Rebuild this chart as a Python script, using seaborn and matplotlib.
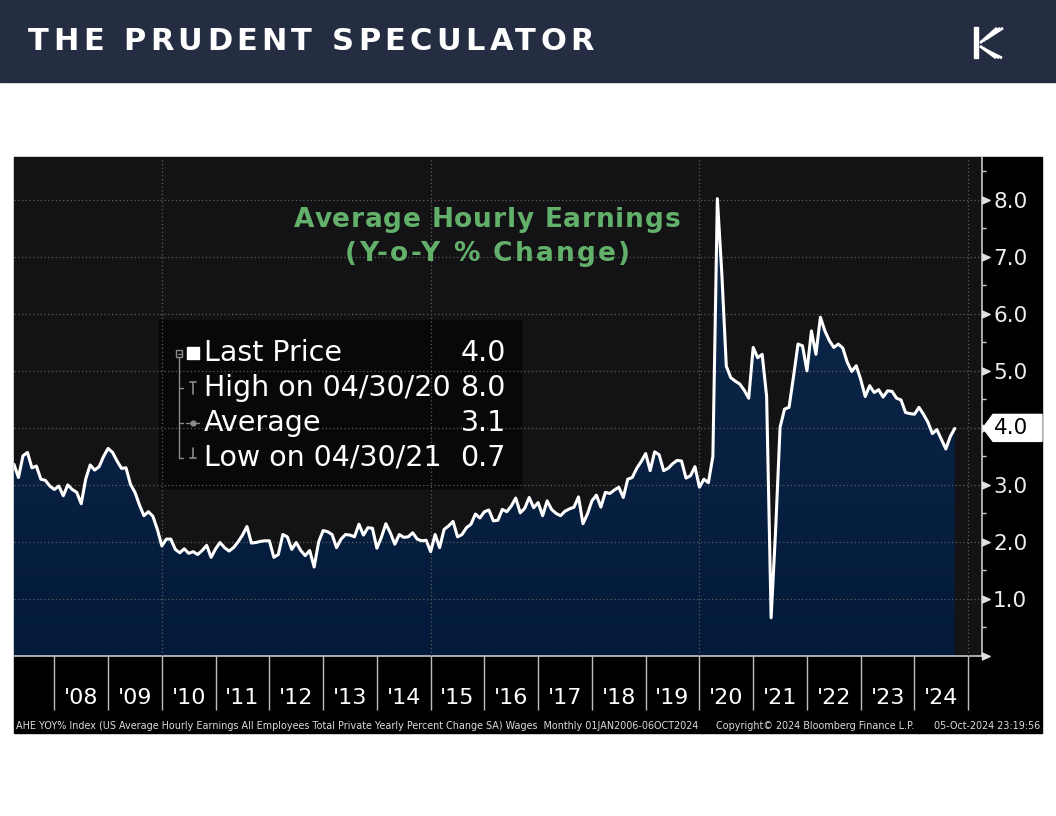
import numpy as np
import pandas as pd
import matplotlib
matplotlib.use("Agg")
import matplotlib.pyplot as plt
import seaborn as sns
import matplotlib.transforms as mtransforms
from matplotlib.patches import Rectangle, Polygon
from matplotlib.lines import Line2D
from matplotlib.path import Path
from matplotlib.colors import LinearSegmentedColormap
from matplotlib.font_manager import FontProperties

# ---------------- data ----------------
start_month = "2007-03-31"
ahe_yoy = [
    3.36, 3.13, 3.51, 3.57, 3.30, 3.33, 3.10, 3.08, 2.98, 2.92,
    2.98, 2.81, 3.00, 2.92, 2.87, 2.67, 3.10, 3.35, 3.26, 3.32,
    3.50, 3.64, 3.57, 3.42, 3.29, 3.30, 3.01, 2.87, 2.65, 2.46,
    2.53, 2.45, 2.22, 1.93, 2.05, 2.05, 1.87, 1.81, 1.88, 1.80,
    1.83, 1.78, 1.85, 1.94, 1.73, 1.88, 1.99, 1.90, 1.84, 1.90,
    2.00, 2.12, 2.27, 1.98, 1.99, 2.01, 2.02, 2.02, 1.73, 1.78,
    2.13, 2.09, 1.87, 1.99, 1.85, 1.76, 1.85, 1.56, 2.00, 2.20,
    2.18, 2.13, 1.90, 2.05, 2.13,
    2.12, 2.09, 2.31, 2.12, 2.25, 2.24, 1.89, 2.08, 2.32, 2.16,
    1.96, 2.13, 2.08, 2.09, 2.16, 2.05, 2.02, 2.03, 1.83, 2.13,
    1.90, 2.22, 2.28, 2.36, 2.09, 2.13, 2.25, 2.31, 2.49, 2.42,
    2.53, 2.56, 2.37, 2.38, 2.57, 2.53, 2.63, 2.77, 2.51, 2.59,
    2.78, 2.60, 2.69, 2.46, 2.72, 2.57, 2.50, 2.46, 2.54, 2.58,
    2.61, 2.79, 2.32, 2.49, 2.72, 2.82, 2.61, 2.87, 2.85, 2.91,
    2.96, 2.78, 3.10, 3.13, 3.29, 3.41, 3.55, 3.25, 3.58, 3.53,
    3.25, 3.29, 3.37, 3.43, 3.42, 3.12, 3.16, 3.32, 2.96, 3.10,
    3.04,
    3.50, 8.02, 6.70, 5.08, 4.88, 4.82, 4.77, 4.66, 4.52, 5.41,
    5.23, 5.29, 4.55, 0.67, 2.20, 4.01, 4.33, 4.36, 4.90, 5.47,
    5.44, 5.00, 5.70, 5.29, 5.94, 5.70, 5.53, 5.41, 5.47, 5.40,
    5.15, 4.99, 5.09, 4.85, 4.55, 4.74, 4.62, 4.67, 4.54, 4.65,
    4.64, 4.52, 4.49, 4.27, 4.25, 4.24, 4.36, 4.24, 4.10, 3.90,
    3.97, 3.80, 3.63, 3.85, 3.99,
]
year_ticks = list(range(2008, 2026))
year_labels = ["'08", "'09", "'10", "'11", "'12", "'13", "'14", "'15", "'16",
               "'17", "'18", "'19", "'20", "'21", "'22", "'23", "'24"]
y_major = [0, 1, 2, 3, 4, 5, 6, 7, 8]
y_labels = ["", "1.0", "2.0", "3.0", "4.0", "5.0", "6.0", "7.0", "8.0"]
y_minor = [0.5, 1.5, 2.5, 3.5, 4.5, 5.5, 6.5, 7.5, 8.5]
grid_years = [2010, 2015, 2020, 2025]
legend_rows = ["Last Price", "High on 04/30/20", "Average", "Low on 04/30/21"]
legend_vals = ["4.0", "8.0", "3.1", "0.7"]
last_label = "4.0"
last_value = 4.0
title_lines = ["Average Hourly Earnings", "(Y-o-Y % Change)"]
footer_left = ("AHE YOY% Index (US Average Hourly Earnings All Employees Total Private "
               "Yearly Percent Change SA) Wages  Monthly 01JAN2006-06OCT2024")
footer_mid = "Copyright\u00a9 2024 Bloomberg Finance L.P."
footer_right = "05-Oct-2024 23:19:56"
header_text = "THE PRUDENT SPECULATOR"

dates = pd.date_range(start_month, periods=len(ahe_yoy), freq="ME")
df = pd.DataFrame({"t": dates.year + dates.month / 12.0, "v": ahe_yoy})

# ---------------- figure ----------------
W, H = 1056, 816
sns.set_theme(style="ticks")
plt.rcParams["font.family"] = ["DejaVu Sans"]

fig = plt.figure(figsize=(W / 100, H / 100), dpi=100)
fig.patch.set_facecolor("white")
renderer = fig.canvas.get_renderer()


def fx(px):
    return px / W


def fy(py):
    return 1 - py / H


def spaced_text(text, x0, x1, ycen, prop, color):
    """Draw text char by char so that it spans pixel range x0..x1."""
    def wpx(s):
        w, h, d = renderer.get_text_width_height_descent(s, prop, ismath=False)
        return w
    n = len(text)
    extra = (x1 - x0 - wpx(text)) / (n - 1)
    for i, ch in enumerate(text):
        if ch == " ":
            continue
        xpos = x0 + (wpx(text[:i + 1]) - wpx(ch)) + i * extra
        fig.text(fx(xpos), fy(ycen), ch, fontproperties=prop, color=color,
                 ha="left", va="center", zorder=5)


# header band + chart panel
fig.add_artist(Rectangle((0, fy(82)), 1, 82 / H, transform=fig.transFigure,
                         color="#252d42", zorder=-3))
fig.add_artist(Rectangle((fx(14), fy(733)), (1042 - 14) / W, (733 - 157) / H,
                         transform=fig.transFigure, color="black", zorder=-2))

ax = fig.add_axes([fx(14), fy(656), (982 - 14) / W, (656 - 157) / H])
ax.set_facecolor("#131316")

# line
sns.lineplot(data=df, x="t", y="v", color="white", lw=2.2, ax=ax,
             estimator=None, zorder=5)

# gradient fill under the line
poly = ax.fill_between(df["t"], df["v"], 0, facecolor="none", edgecolor="none")
grad = np.linspace(0, 1, 256).reshape(-1, 1)
cmap = LinearSegmentedColormap.from_list("fill", ["#031a3a", "#0f2a4c"])
im = ax.imshow(grad, extent=[df["t"].iloc[0], df["t"].iloc[-1], 0, max(ahe_yoy)],
               origin="lower", aspect="auto", cmap=cmap, zorder=2,
               interpolation="bilinear")
im.set_clip_path(poly.get_paths()[0], transform=ax.transData)

# legend box (inside axes, below grid)
ax.add_patch(Rectangle((fx(159), fy(488)), (521 - 159) / W, (488 - 320) / H,
                       transform=fig.transFigure, color="#08080a", zorder=1.5))

# grid
for yv in y_major[1:]:
    ax.axhline(yv, color="#5e5e5e", lw=0.9, ls=(0, (1, 2)), zorder=3)
for gx in grid_years:
    ax.axvline(gx, color="#5e5e5e", lw=0.9, ls=(0, (1, 2)), zorder=3)

ax.set_xlim(2007.25, 2025.256)
ax.set_ylim(0, 8.75)
ax.set_xlabel("")
ax.set_ylabel("")

for s in ["left", "top"]:
    ax.spines[s].set_visible(False)
for s in ["right", "bottom"]:
    ax.spines[s].set_visible(True)
    ax.spines[s].set_color("#c8c8c8")
    ax.spines[s].set_linewidth(1.2)

# x ticks
ax.set_xticks(year_ticks)
ax.set_xticklabels([""] * len(year_ticks))
ax.tick_params(axis="x", which="major", length=39, width=1, color="#bdbdbd",
               direction="out", bottom=True)
ax.set_xticks([y + 0.5 for y in year_ticks[:-1]], minor=True)
ax.set_xticklabels(year_labels, minor=True)
ax.tick_params(axis="x", which="minor", length=0, pad=23, labelsize=16,
               labelcolor="white", bottom=True)

# y ticks on the right
ax.yaxis.tick_right()
ax.set_yticks(y_major)
ax.set_yticklabels(y_labels)
ax.tick_params(axis="y", which="major", length=0, pad=8, labelsize=15.5,
               labelcolor="#eeeeee", right=True, left=False)
ax.set_yticks(y_minor, minor=True)
ax.tick_params(axis="y", which="minor", length=3, width=1, color="#cfcfcf",
               right=True, left=False)
tri = Path([(0, -0.45), (1, 0), (0, 0.45), (0, -0.45)],
           [Path.MOVETO, Path.LINETO, Path.LINETO, Path.CLOSEPOLY])
btrans = mtransforms.blended_transform_factory(ax.transAxes, ax.transData)
ax.plot([1.0] * len(y_major), y_major, ls="none", marker=tri, ms=11,
        color="#e0e0e0", transform=btrans, clip_on=False, zorder=6)

# last price tag
tag_y = fy(656) + (last_value / 8.75) * ((656 - 157) / H)
tag_h = 13.5 / H
fig.add_artist(Polygon([(fx(983), tag_y), (fx(993), tag_y + tag_h),
                        (fx(1042), tag_y + tag_h), (fx(1042), tag_y - tag_h),
                        (fx(993), tag_y - tag_h)], closed=True,
                       transform=fig.transFigure, color="white", zorder=4))
fig.text(fx(994), tag_y, last_label, fontsize=15.5, color="black", va="center",
         ha="left", zorder=5)

# title (letter spaced, bold green)
tp = FontProperties(family="DejaVu Sans", weight="bold", size=19)
spaced_text(title_lines[0], 294, 680, 220, tp, "#62b06a")
spaced_text(title_lines[1], 345, 630, 254, tp, "#62b06a")

# legend text
row_y = [353, 388, 423, 458]
for lab, val, yy in zip(legend_rows, legend_vals, row_y):
    fig.text(fx(204), fy(yy), lab, ha="left", va="center", fontsize=20.5,
             color="white", zorder=5)
    fig.text(fx(506), fy(yy), val, ha="right", va="center", fontsize=20.5,
             color="white", zorder=5)

gray = "#8a8a8a"


def fline(xs, ys, **kw):
    fig.add_artist(Line2D([fx(x) for x in xs], [fy(y) for y in ys],
                          transform=fig.transFigure, zorder=5, **kw))


fig.add_artist(Rectangle((fx(176), fy(357)), 6 / W, 7 / H, transform=fig.transFigure,
                         facecolor="none", edgecolor=gray, lw=1, zorder=5))
fline([177.5, 180.5], [353.5, 353.5], color=gray, lw=0.8)
fline([179, 179], [357, 458], color=gray, lw=1)
for yy in row_y[1:]:
    fline([179, 183], [yy, yy], color=gray, lw=1)
fig.add_artist(Rectangle((fx(187), fy(359)), 12 / W, 12 / H, transform=fig.transFigure,
                         color="white", zorder=5))
fline([190, 196], [382, 382], color=gray, lw=1.2)
fline([193, 193], [382, 394], color=gray, lw=1.2)
fline([186, 199], [423, 423], color=gray, lw=1.0)
fline([192.5], [423], color=gray, marker="o", ms=3.5, ls="none")
fline([193, 193], [448, 458], color=gray, lw=1.2)
fline([190, 196], [458, 458], color=gray, lw=1.2)

# footer
fig.text(fx(16), fy(726), footer_left, fontsize=6.9, color="#dcdcdc", va="center",
         ha="left")
fig.text(fx(716), fy(726), footer_mid, fontsize=6.9, color="#dcdcdc", va="center",
         ha="left")
fig.text(fx(1040), fy(726), footer_right, fontsize=6.9, color="#dcdcdc", va="center",
         ha="right")

# header text with letter spacing
hp = FontProperties(family="DejaVu Sans", weight="bold", size=22)
spaced_text(header_text, 28, 594, 41, hp, "white")

# logo
fig.add_artist(Rectangle((fx(974), fy(58)), 4 / W, 31 / H, transform=fig.transFigure,
                         color="white", zorder=5))
for k in range(3):
    fline([980 + 3 * k, 997 + 3 * k], [43 - 2 * k, 28], color="white", lw=2.0,
          solid_capstyle="butt")
    fline([980 + 3 * k, 996 + 3 * k], [46 + 2 * k, 58], color="white", lw=2.0,
          solid_capstyle="butt")

fig.savefig("out.png", dpi=100)
